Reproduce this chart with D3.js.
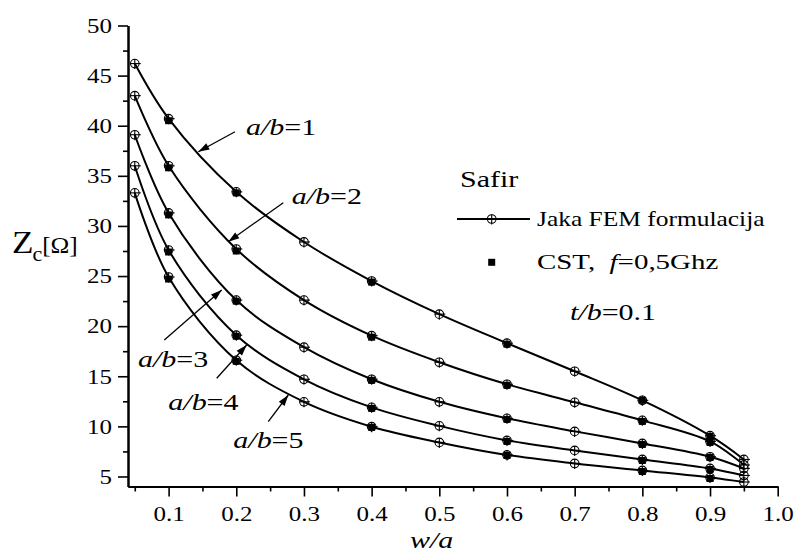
<!DOCTYPE html>
<html><head><meta charset="utf-8">
<script src="https://cdn.jsdelivr.net/npm/d3@7"></script>
<style>
body{margin:0;background:#fff}
text{font-family:"Liberation Serif","Times New Roman",serif;fill:#000}
</style>
</head><body><svg id="c" width="796" height="552"></svg>
<script>
// ---- data ----
const xValues = [0.05,0.1,0.2,0.3,0.4,0.5,0.6,0.7,0.8,0.9,0.95];
const femAB1 = [46.2,40.7,33.4,28.4,24.5,21.2,18.3,15.5,12.6,9.07,6.7];
const femAB2 = [43.0,36.0,27.7,22.6,19.05,16.4,14.2,12.4,10.6,8.5,6.15];
const femAB3 = [39.1,31.3,22.6,17.9,14.7,12.45,10.8,9.5,8.3,6.97,5.8];
const femAB4 = [36.0,27.6,19.1,14.7,11.9,10.05,8.6,7.6,6.7,5.8,5.1];
const femAB5 = [33.3,24.9,16.6,12.45,9.97,8.4,7.15,6.3,5.6,4.9,4.45];
const cstX = [0.1,0.2,0.4,0.6,0.8,0.9];
const cstAB1 = [40.5,33.3,24.4,18.2,12.6,9.0];
const cstAB2 = [35.8,27.5,18.9,14.1,10.5,8.4];
const cstAB3 = [31.1,22.5,14.6,10.7,8.2,6.9];
const cstAB4 = [27.4,19.0,11.8,8.5,6.6,5.7];
const cstAB5 = [24.7,16.5,9.9,7.1,5.5,4.8];
const xTicks = [0.1,0.2,0.3,0.4,0.5,0.6,0.7,0.8,0.9,1.0];
const xMinor = [0.05,0.15,0.25,0.35,0.45,0.55,0.65,0.75,0.85,0.95];
const yTicks = [5,10,15,20,25,30,35,40,45,50];
const yMinor = [7.5,12.5,17.5,22.5,27.5,32.5,37.5,42.5,47.5];
const seriesLabels = ["1","2","3","4","5"];

const fem = [femAB1,femAB2,femAB3,femAB4,femAB5];
const cst = [cstAB1,cstAB2,cstAB3,cstAB4,cstAB5];

const SX = 1.25; // horizontal stretch of text in the reference
const svg = d3.select("#c");
const x = d3.scaleLinear().domain([0.04,1.0]).range([128,777.7]);
const y = d3.scaleLinear().domain([4,50]).range([486.5,25.5]);

// axes
const gy = svg.append("g").attr("transform","translate(128,0)");
gy.call(d3.axisLeft(y).tickValues(yTicks).tickSize(10).tickSizeOuter(0).tickFormat(d3.format("d")));
const gyMin = svg.append("g").attr("transform","translate(128,0)");
gyMin.call(d3.axisLeft(y).tickValues(yMinor).tickSize(5).tickSizeOuter(0).tickFormat(""));
const gx = svg.append("g").attr("transform","translate(0,486.5)");
gx.call(d3.axisBottom(x).tickValues(xTicks).tickSize(10).tickSizeOuter(0).tickFormat(d3.format(".1f")));
const gxMin = svg.append("g").attr("transform","translate(0,486.5)");
gxMin.call(d3.axisBottom(x).tickValues(xMinor).tickSize(5).tickSizeOuter(0).tickFormat(""));
svg.selectAll(".domain").attr("stroke","#000").attr("stroke-width",2);
svg.selectAll(".tick line").attr("stroke","#000").attr("stroke-width",1.6);
svg.selectAll("g").filter(function(){return this.getAttribute("font-family");}).attr("font-family",null);
gy.selectAll(".tick text").attr("font-size",20)
  .attr("x",-16/SX).attr("dy","0.34em").attr("transform",`scale(${SX},1)`);
gx.selectAll(".tick text").attr("font-size",20)
  .attr("y",35).attr("dy",0).attr("transform",`scale(${SX},1)`);

// curves
const line = d3.line().x((d,i)=>x(xValues[i])).y(d=>y(d)).curve(d3.curveCatmullRom.alpha(0.5));
svg.append("g").selectAll("path").data(fem).join("path")
  .attr("d",line).attr("fill","none").attr("stroke","#000").attr("stroke-width",2);

// CST markers
cst.forEach(s=>{
  svg.append("g").selectAll("rect").data(s).join("rect")
    .attr("x",(d,i)=>x(cstX[i])-3.5).attr("y",d=>y(d)-3.5)
    .attr("width",7).attr("height",7).attr("fill","#000");
});
// FEM markers
function femMarker(g,cx,cy){
  g.append("circle").attr("cx",cx).attr("cy",cy).attr("r",4.3)
    .attr("fill","none").attr("stroke","#000").attr("stroke-width",1.1);
  g.append("line").attr("x1",cx-4.5).attr("x2",cx+6).attr("y1",cy).attr("y2",cy)
    .attr("stroke","#000").attr("stroke-width",1.1);
  g.append("line").attr("x1",cx).attr("x2",cx).attr("y1",cy-4.5).attr("y2",cy+5.5)
    .attr("stroke","#000").attr("stroke-width",1.1);
}
const mg = svg.append("g");
fem.forEach(s=>s.forEach((d,i)=>femMarker(mg,x(xValues[i]),y(d))));

// text helper
function label(px,py,parts,size,sx){
  const t = svg.append("g").attr("transform",`translate(${px},${py}) scale(${sx||SX},1)`)
    .append("text").attr("font-size",size).attr("xml:space","preserve");
  parts.forEach(p=>{
    const ts = t.append("tspan").text(p.t);
    if(p.i) ts.attr("font-style","italic");
    if(p.s) ts.attr("font-size",p.s);
    if(p.dy) ts.attr("dy",p.dy);
    if(p.dx) ts.attr("dx",p.dx);
  });
  return t;
}
// arrows
function arrow(x1,y1,x2,y2){
  svg.append("line").attr("x1",x1).attr("y1",y1).attr("x2",x2).attr("y2",y2)
    .attr("stroke","#000").attr("stroke-width",1.3);
  const a = Math.atan2(y2-y1,x2-x1), L=11, W=3.6;
  const bx = x2 - L*Math.cos(a), by = y2 - L*Math.sin(a);
  const px = -Math.sin(a)*W, py = Math.cos(a)*W;
  svg.append("path").attr("d",`M${x2},${y2}L${bx+px},${by+py}L${bx-px},${by-py}Z`).attr("fill","#000");
}
const annPos = [[246,135],[291.7,204],[138,366.7],[168.3,410],[233.3,448.3]];
const arrPos = [[235,131.7,198.3,151.7],[283.3,202.7,228.3,241.7],[164.3,340,221.7,290],[216.7,378.3,246.7,345],[268.3,421.7,288.3,395]];
seriesLabels.forEach((s,i)=>{
  label(annPos[i][0],annPos[i][1],[{t:"a/b",i:true},{t:"="+s}],24);
  arrow(...arrPos[i]);
});

// legend
label(460,187,[{t:"Safir"}],24);
svg.append("line").attr("x1",457).attr("x2",530).attr("y1",219).attr("y2",219)
  .attr("stroke","#000").attr("stroke-width",2);
femMarker(svg.append("g"),491.7,219);
label(537,226,[{t:"Jaka FEM formulacija"}],20.4).attr("textLength",182).attr("lengthAdjust","spacingAndGlyphs");
svg.append("rect").attr("x",488.2).attr("y",258.8).attr("width",7).attr("height",7).attr("fill","#000");
label(537,269,[{t:"CST,\u00A0\u00A0"},{t:"f",i:true},{t:"=0,5Ghz"}],21.5).attr("textLength",145).attr("lengthAdjust","spacingAndGlyphs");
label(570,320,[{t:"t/b",i:true},{t:"=0.1"}],24);

// axis titles
label(410,548,[{t:"w/a",i:true}],24);
label(12,253,[{t:"Z",s:32},{t:"c",s:20,dy:8,dx:-1},{t:"[Ω]",s:23,dy:-8,dx:0}],23,1.1);
</script></body></html>
